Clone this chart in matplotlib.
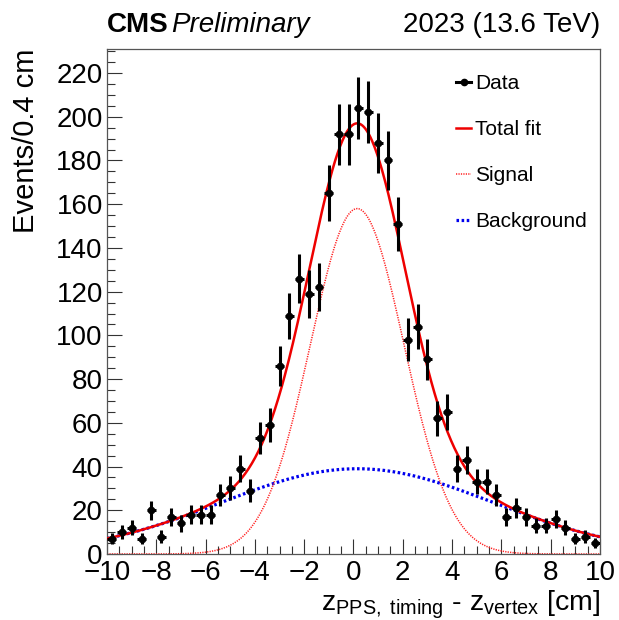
import numpy as np
import matplotlib
matplotlib.use("Agg")
import matplotlib.pyplot as plt
from matplotlib.lines import Line2D
from matplotlib.ticker import MultipleLocator

plt.rcParams['font.family'] = ['Liberation Sans', 'DejaVu Sans']
plt.rcParams['mathtext.fontset'] = 'custom'
plt.rcParams['mathtext.rm'] = 'Liberation Sans'
plt.rcParams['mathtext.it'] = 'Liberation Sans:italic'

# ---- data (bin centres, 0.4 cm bins) ----
bin_centers = np.round(np.arange(-9.8, 10.0, 0.4), 2)
counts = [7, 10, 12, 7, 20, 8, 17, 14, 18, 18,
          18, 27, 30, 39, 29, 53, 59, 86, 109, 126,
          119, 122, 165, 192, 192, 204, 202, 188, 180, 151,
          98, 104, 89, 62, 65, 39, 43, 33, 33, 27,
          17, 21, 17, 13, 13, 16, 12, 7, 8, 5]
errors = np.sqrt(np.array(counts, dtype=float))

# ---- fit model parameters (amplitude, mean, sigma) ----
signal_pars = [158.0, 0.15, 1.9]
background_pars = [39.0, 0.15, 5.5]

x_ticks = [-10, -8, -6, -4, -2, 0, 2, 4, 6, 8, 10]
y_ticks = [0, 20, 40, 60, 80, 100, 120, 140, 160, 180, 200, 220]


def gauss(x, a, m, s):
    return a * np.exp(-0.5 * ((x - m) / s) ** 2)


xf = np.linspace(-10, 10, 600)
sig = gauss(xf, *signal_pars)
bkg = gauss(xf, *background_pars)
tot = sig + bkg

fig = plt.figure(figsize=(6.19, 6.20), dpi=100)
ax = fig.add_axes([107 / 619, 1 - 554 / 620, (600 - 107) / 619, (554 - 49) / 620])

ax.plot(xf, bkg, color='#0000ee', lw=2.3, ls=(0, (0.8, 0.8)), zorder=2)
ax.plot(xf, sig, color='#ff2020', lw=1.1, ls=(0, (0.8, 0.8)), zorder=2)
ax.plot(xf, tot, color='#ee0000', lw=1.8, zorder=3)
ax.errorbar(bin_centers, counts, yerr=errors, xerr=0.18, fmt='o', color='black',
            ms=4.5, elinewidth=2.2, capsize=0, zorder=4)

ax.set_xlim(-10, 10)
ax.set_ylim(0, 231)
ax.set_xticks(x_ticks)
ax.set_xticklabels([('\u2212%d' % -t if t < 0 else '%d' % t) for t in x_ticks])
ax.set_yticks(y_ticks)
ax.xaxis.set_minor_locator(MultipleLocator(0.5))
ax.yaxis.set_minor_locator(MultipleLocator(5))
ax.tick_params(which='both', direction='in', top=False, right=False, colors='#333333',
               labelcolor='black', width=0.8)
ax.tick_params(which='major', length=10.5, labelsize=20)
ax.tick_params(axis='x', which='major', pad=4.5)
ax.tick_params(axis='y', which='major', pad=3)
ax.tick_params(which='minor', length=5.5)
for sp in ax.spines.values():
    sp.set_color('#555555')
    sp.set_linewidth(0.9)

ax.set_ylabel('Events/0.4 cm', fontsize=21, loc='top', labelpad=12)
ax.set_xlabel(r'$\mathregular{z_{PPS,\ timing}}$ - $\mathregular{z_{vertex}}$ [cm]',
              fontsize=20.5, loc='right', labelpad=2)

handles = [
    Line2D([], [], color='black', lw=2.2, marker='o', ms=4.5),
    Line2D([], [], color='#ee0000', lw=1.8),
    Line2D([], [], color='#ff2020', lw=1.1, ls=(0, (0.8, 0.8))),
    Line2D([], [], color='#0000ee', lw=2.3, ls=(0, (0.8, 0.8))),
]
labels = ['Data', 'Total fit', 'Signal', 'Background']
ax.legend(handles, labels, loc='upper left', bbox_to_anchor=(456 / 619, 1 - 74 / 620),
          bbox_transform=fig.transFigure, frameon=False, fontsize=15,
          handlelength=0.72, handletextpad=0.2, labelspacing=1.3, borderpad=0,
          borderaxespad=0)

fig.text(107 / 619, 1 - 32 / 620, 'CMS', fontsize=20, fontweight='bold', va='baseline', ha='left')
fig.text(171 / 619, 1 - 32 / 620, 'Preliminary', fontsize=20, style='italic', va='baseline', ha='left')
fig.text(600 / 619, 1 - 32 / 620, '2023 (13.6 TeV)', fontsize=20, va='baseline', ha='right')

fig.savefig('out.png', dpi=100)
